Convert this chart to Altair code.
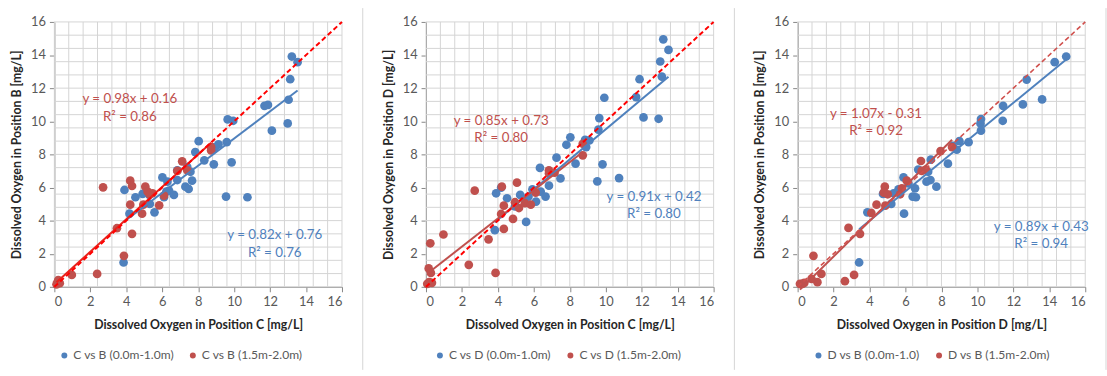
import altair as alt
import pandas as pd

BLUE = "#4F81BD"
RED = "#C0504D"
BRIGHT_RED = "#FF0000"
FONT = "Lato"
GRID = "#D4D4D4"
AXIS = "#868686"

# ---- Panel 1: C vs B ----
cb_top_x = [13.21, 13.53, 13.12, 13.03, 12.98, 12.10, 11.69, 11.88, 9.64, 9.95, 8.03, 7.84, 8.34,
            9.13, 8.94, 9.59, 8.87, 9.86, 9.55, 10.74, 6.84, 6.84, 7.39, 7.57, 7.66, 7.29, 7.47,
            6.01, 6.29, 6.38, 6.65, 6.10, 4.91, 5.28, 5.31, 5.57, 4.51, 3.90, 4.18, 3.85, 8.80, 6.23]
cb_top_y = [13.91, 13.57, 12.54, 11.30, 9.87, 9.43, 10.93, 10.99, 10.11, 10.03, 8.80, 8.14, 7.64,
            8.60, 8.44, 8.74, 7.40, 7.52, 5.45, 5.41, 7.04, 6.45, 7.24, 6.95, 6.41, 6.05, 5.91,
            6.61, 6.35, 5.81, 5.55, 5.41, 5.61, 5.55, 5.01, 4.50, 5.41, 5.85, 4.42, 1.47, 8.30, 5.75]
cb_bot_x = [2.71, 4.22, 4.32, 4.22, 4.32, 3.87, 3.48, 2.38, 0.97, 0.12, 0.22, 0.30, 0.18, 4.88,
            5.06, 5.19, 5.46, 4.95, 5.83, 6.10, 6.84, 7.11, 7.39, 8.72, 8.72, 5.30]
cb_bot_y = [6.01, 6.41, 6.09, 4.96, 3.20, 1.87, 3.54, 0.78, 0.72, 0.15, 0.40, 0.22, 0.28, 4.42,
            6.05, 5.75, 5.65, 4.96, 4.92, 5.51, 7.00, 7.58, 7.04, 8.44, 8.24, 5.60]

# ---- Panel 2: C vs D ----
cd_top_x = [13.20, 13.49, 13.03, 13.12, 11.88, 11.69, 9.92, 12.10, 12.94, 9.64, 9.59, 8.03, 7.81,
            8.85, 9.09, 8.91, 7.26, 8.32, 9.82, 9.53, 10.74, 7.48, 6.34, 6.84, 6.38, 6.65, 6.12,
            5.92, 5.70, 5.24, 4.51, 4.18, 3.90, 4.95, 5.57, 3.83]
cd_top_y = [14.95, 14.31, 13.61, 12.70, 12.54, 11.46, 11.42, 10.23, 10.15, 10.19, 9.49, 9.03, 8.58,
            8.88, 8.84, 8.44, 7.80, 7.44, 7.40, 6.37, 6.57, 6.55, 7.18, 6.11, 5.75, 5.45, 5.15,
            5.89, 5.45, 5.55, 5.35, 5.99, 5.65, 4.86, 3.92, 3.42]
cd_bot_x = [2.71, 4.22, 5.06, 4.18, 4.33, 4.33, 4.84, 4.95, 5.17, 5.50, 5.83, 6.10, 6.84, 6.84,
            7.15, 8.72, 8.72, 3.48, 2.38, 3.87, 0.97, 0.24, 0.15, 0.27, 0.18, 0.33, 0.07]
cd_bot_y = [5.81, 6.05, 6.29, 4.40, 4.90, 3.50, 4.10, 5.11, 4.76, 5.05, 4.96, 5.69, 7.04, 6.85,
            6.89, 8.64, 7.94, 2.87, 1.33, 0.84, 3.16, 2.63, 1.11, 0.84, 0.28, 0.24, 0.18]

# ---- Panel 3: D vs B ----
db_top_x = [14.94, 14.30, 12.74, 12.53, 13.60, 11.43, 11.41, 10.17, 10.20, 10.20, 9.51, 9.00, 8.85,
            8.63, 8.36, 7.72, 7.41, 7.26, 7.39, 7.17, 6.71, 5.89, 6.16, 6.53, 6.40, 6.58, 5.92,
            4.75, 5.61, 5.34, 5.21, 3.88, 3.42]
db_top_y = [13.91, 13.57, 12.52, 11.02, 11.32, 10.93, 10.03, 9.87, 10.13, 9.43, 8.74, 8.80, 8.28,
            8.52, 7.44, 6.05, 7.68, 6.95, 6.45, 6.35, 7.08, 6.61, 6.25, 5.95, 5.45, 5.41, 4.42,
            5.61, 5.89, 5.65, 5.01, 4.50, 1.47]
db_bot_x = [4.85, 4.79, 5.01, 4.39, 4.10, 4.88, 5.70, 5.80, 6.07, 6.86, 6.90, 7.13, 7.95, 8.59,
            2.83, 3.47, 0.88, 1.32, 1.10, 0.77, 2.63, 3.14, 0.13, 0.26, 0.37]
db_bot_y = [6.05, 5.69, 5.59, 4.96, 4.46, 4.90, 5.59, 5.95, 6.41, 7.60, 7.00, 7.08, 8.20, 8.44,
            3.56, 3.20, 1.87, 0.78, 0.28, 0.48, 0.34, 0.72, 0.18, 0.18, 0.24]

# Linear fits: slope, intercept, R²  (upper-layer series, lower-layer series)
fits = {
    "cb": [(0.82, 0.76, 0.76), (0.98, 0.16, 0.86)],
    "cd": [(0.91, 0.42, 0.80), (0.85, 0.73, 0.80)],
    "db": [(0.89, 0.43, 0.94), (1.07, -0.31, 0.92)],
}

GRID_VALUES = [round(i * 0.8, 2) for i in range(21)]
TICKS = list(range(0, 17, 2))
W, H = 291, 268


def eq_text(m, b):
    sign = "+" if b >= 0 else "-"
    return f"y = {m:.2f}x {sign} {abs(b):.2f}"


def panel(tx, ty, bx, by, fit, names, xtitle, ytitle, eq_pos, red_trend_color,
          diag_color, diag_width, legend_x):
    scale = alt.Scale(domain=[0, 16], nice=False, zero=False)
    ax_common = dict(values=TICKS, grid=False, tickSize=5, tickColor=AXIS, domainColor=AXIS,
                     labelColor="#595959", labelFontSize=13, labelFont=FONT, labelPadding=4,
                     titleFont=FONT, titleFontSize=12.4, titleFontWeight="bold",
                     titleColor="#262626", format="d")
    xax = alt.Axis(titlePadding=10, **ax_common)
    yax = alt.Axis(titlePadding=7, **ax_common)

    def X(f):
        return alt.X(f, type="quantitative", scale=scale, axis=xax, title=xtitle)

    def Y(f):
        return alt.Y(f, type="quantitative", scale=scale, axis=yax, title=ytitle)

    grid_df = pd.DataFrame({"g": GRID_VALUES})
    vgrid = alt.Chart(grid_df).mark_rule(color=GRID, strokeWidth=1).encode(
        x=X("g"), y=alt.value(0), y2=alt.value(H))
    hgrid = alt.Chart(grid_df).mark_rule(color=GRID, strokeWidth=1).encode(
        y=Y("g"), x=alt.value(0), x2=alt.value(W))

    pts = pd.DataFrame({
        "x": tx + bx,
        "y": ty + by,
        "series": [names[0]] * len(tx) + [names[1]] * len(bx),
        "order": [0] * len(tx) + [1] * len(bx),
    })
    points = alt.Chart(pts).mark_circle(size=78, opacity=1).encode(
        x=X("x"), y=Y("y"),
        color=alt.Color("series:N",
                        scale=alt.Scale(domain=names, range=[BLUE, RED]),
                        legend=alt.Legend(orient="none", legendX=legend_x, legendY=331,
                                          direction="horizontal", title=None,
                                          symbolType="circle", symbolSize=36,
                                          symbolStrokeWidth=0, labelFont=FONT,
                                          labelFontSize=12.2, labelColor="#595959",
                                          labelOffset=3, columnPadding=13, padding=0)),
        order=alt.Order("order:Q"),
    )

    (mt, bt, r2t), (mb, bb, r2b) = fit
    top_line = pd.DataFrame({"x": [min(tx), max(tx)]})
    top_line["y"] = mt * top_line["x"] + bt
    bot_line = pd.DataFrame({"x": [min(bx), max(bx)]})
    bot_line["y"] = mb * bot_line["x"] + bb
    tl = alt.Chart(top_line).mark_line(color=BLUE, strokeWidth=2).encode(x=X("x"), y=Y("y"))
    bl = alt.Chart(bot_line).mark_line(color=red_trend_color, strokeWidth=2).encode(
        x=X("x"), y=Y("y"))

    diag = alt.Chart(pd.DataFrame({"x": [0, 16], "y": [0, 16]})).mark_line(
        color=diag_color, strokeWidth=diag_width, strokeDash=[5, 3]).encode(x=X("x"), y=Y("y"))

    (bxp, byp, bdy), (rxp, ryp, rdy) = eq_pos
    lab_df = pd.DataFrame({
        "x": [bxp, bxp, rxp, rxp],
        "y": [byp, byp - bdy, ryp, ryp - rdy],
        "t": [eq_text(mt, bt), f"R² = {r2t:.2f}", eq_text(mb, bb), f"R² = {r2b:.2f}"],
        "c": [BLUE, BLUE, RED, RED],
    })
    labels = alt.Chart(lab_df).mark_text(font=FONT, fontSize=13.5, baseline="middle",
                                         align="center").encode(
        x=X("x"), y=Y("y"), text="t:N", color=alt.Color("c:N", scale=None))

    # light frame line separating this chart from the next one
    sep = alt.Chart(pd.DataFrame({"s": [0]})).mark_rule(color=GRID, strokeWidth=1).encode(
        x=alt.value(W + 21), y=alt.value(-14), y2=alt.value(352))

    return alt.layer(vgrid, hgrid, points, tl, bl, diag, labels, sep).properties(
        width=W, height=H)


p1 = panel(cb_top_x, cb_top_y, cb_bot_x, cb_bot_y, fits["cb"],
           ["C vs B (0.0m-1.0m)", "C vs B (1.5m-2.0m)"],
           "Dissolved Oxygen in Position C [mg/L]", "Dissolved Oxygen in Position B  [mg/L]",
           [(12.26, 3.10, 1.07), (4.2, 11.34, 1.07)], "#E8231C", BRIGHT_RED, 2, 4)
p2 = panel(cd_top_x, cd_top_y, cd_bot_x, cd_bot_y, fits["cd"],
           ["C vs D (0.0m-1.0m)", "C vs D (1.5m-2.0m)"],
           "Dissolved Oxygen in Position C [mg/L]", "Dissolved Oxygen in Position D [mg/L]",
           [(12.68, 5.43, 1.02), (4.18, 10.03, 1.07)], RED, BRIGHT_RED, 2, 8)
p3 = panel(db_top_x, db_top_y, db_bot_x, db_bot_y, fits["db"],
           ["D vs B (0.0m-1.0)", "D vs B (1.5m-2.0m)"],
           "Dissolved Oxygen in Position D [mg/L]", "Dissolved Oxygen in Position B [mg/L]",
           [(13.55, 3.64, 1.07), (4.36, 10.45, 1.07)], RED, "#D0504D", 1.6, 15)

chart = alt.hconcat(p1, p2, p3, spacing=85, bounds="flush").resolve_scale(
    color="independent").resolve_legend(color="independent").configure_view(
    stroke=None).properties(
    padding={"left": 10, "top": 5, "right": 0, "bottom": 0}, background="white")

chart.save("out.html", embed_options={"renderer": "svg", "actions": False})
